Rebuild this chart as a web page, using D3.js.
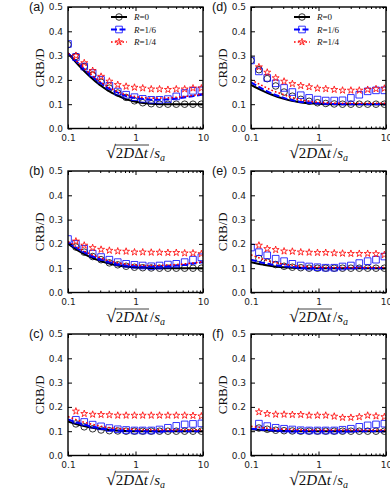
<!DOCTYPE html>
<html>
<head>
<meta charset="utf-8">
<script src="https://cdn.jsdelivr.net/npm/d3@7"></script>
<style>
    body { margin: 0; background: #fff; }
    .axis text { font-family: "DejaVu Sans", sans-serif; font-size: 9px; fill: #222; }
    .axis line { stroke: #000; stroke-width: 1; }
    .axis path { display: none; }
    .frame { fill: none; stroke: #000; stroke-width: 1.4; }
    .panel-label { font-family: "Liberation Sans", Arial, sans-serif; font-size: 12.5px; fill: #111; }
    .math { font-family: "Liberation Serif", "DejaVu Serif", serif; fill: #111; }
</style>
</head>
<body>
<div id="chart"></div>
<script>

// marker positions (sqrt(2 D dt)/s_a) and theory-curve sample positions
var xMarks = [0.1, 0.131, 0.174, 0.232, 0.309, 0.410, 0.546, 0.726, 0.966, 1.28, 1.71, 2.27, 3.02, 4.02, 5.35, 7.11, 9.46];
var xLine = [0.1, 0.15, 0.2, 0.3, 0.4, 0.5, 0.7, 1, 1.5, 2, 3, 5, 7, 10];

var yTicks = [0, 0.1, 0.2, 0.3, 0.4, 0.5];
var xTicks = [0.1, 1, 10];
var xTickLabels = ["0.1", "1", "10"];
var xMinorTicks = [0.2, 0.3, 0.4, 0.5, 0.6, 0.7, 0.8, 0.9, 2, 3, 4, 5, 6, 7, 8, 9];

var seriesNames = ["R=0", "R=1/6", "R=1/4"];
var panelLabels = ["(a)", "(b)", "(c)", "(d)", "(e)", "(f)"];

// (a)
var aCircle = [0.345, 0.297, 0.255, 0.22, 0.19, 0.166, 0.146, 0.128, 0.114, 0.106, 0.102, 0.1, 0.1, 0.1, 0.1, 0.1, 0.1];
var aSquare = [0.348, 0.294, 0.255, 0.228, 0.2, 0.176, 0.152, 0.139, 0.129, 0.122, 0.118, 0.118, 0.121, 0.132, 0.146, 0.155, 0.157];
var aStar = [null, 0.30, 0.27, 0.238, 0.214, 0.194, 0.18, 0.173, 0.169, 0.166, 0.162, 0.162, 0.16, 0.162, 0.162, 0.166, 0.166];
var aLine0 = [0.31, 0.255, 0.22, 0.178, 0.155, 0.14, 0.122, 0.11, 0.103, 0.101, 0.1, 0.1, 0.1, 0.1];
var aLine6 = [0.31, 0.262, 0.228, 0.188, 0.165, 0.152, 0.135, 0.125, 0.12, 0.118, 0.12, 0.127, 0.133, 0.14];
var aLine4 = [0.31, 0.265, 0.232, 0.193, 0.17, 0.156, 0.14, 0.131, 0.126, 0.125, 0.126, 0.131, 0.136, 0.142];

// (b)
var bCircle = [null, 0.187, 0.166, 0.148, 0.135, 0.122, 0.114, 0.108, 0.104, 0.102, 0.101, 0.1, 0.1, 0.1, 0.1, 0.1, 0.1];
var bSquare = [0.22, 0.2, 0.18, 0.16, 0.146, 0.135, 0.125, 0.118, 0.114, 0.111, 0.108, 0.111, 0.115, 0.118, 0.125, 0.135, 0.145];
var bStar = [null, 0.211, 0.194, 0.184, 0.177, 0.173, 0.17, 0.169, 0.166, 0.166, 0.165, 0.165, 0.164, 0.164, 0.162, 0.162, 0.159];
var bLine0 = [0.2, 0.168, 0.15, 0.13, 0.12, 0.113, 0.107, 0.103, 0.101, 0.1, 0.1, 0.1, 0.1, 0.1];
var bLine6 = [0.205, 0.175, 0.157, 0.137, 0.126, 0.119, 0.112, 0.108, 0.106, 0.106, 0.108, 0.113, 0.118, 0.125];
var bLine4 = [0.21, 0.18, 0.162, 0.143, 0.131, 0.124, 0.117, 0.113, 0.111, 0.111, 0.113, 0.117, 0.121, 0.127];

// (c)
var cCircle = [null, 0.13, 0.118, 0.11, 0.105, 0.102, 0.101, 0.1, 0.1, 0.1, 0.1, 0.1, 0.1, 0.1, 0.1, 0.1, 0.1];
var cSquare = [null, 0.147, 0.138, 0.127, 0.12, 0.113, 0.108, 0.105, 0.103, 0.103, 0.103, 0.107, 0.114, 0.122, 0.128, 0.13, 0.132];
var cStar = [null, 0.182, 0.172, 0.169, 0.168, 0.167, 0.165, 0.165, 0.165, 0.165, 0.165, 0.165, 0.165, 0.165, 0.165, 0.164, 0.162];
var cLine0 = [0.14, 0.125, 0.117, 0.109, 0.105, 0.103, 0.101, 0.1, 0.1, 0.1, 0.1, 0.1, 0.1, 0.1];
var cLine6 = [0.148, 0.132, 0.122, 0.112, 0.107, 0.104, 0.102, 0.101, 0.1, 0.1, 0.1, 0.1, 0.1, 0.1];
var cLine4 = [0.16, 0.142, 0.132, 0.121, 0.115, 0.112, 0.109, 0.107, 0.106, 0.106, 0.106, 0.106, 0.106, 0.106];

// (d)
var dCircle = [0.28, 0.242, 0.205, 0.175, 0.15, 0.133, 0.12, 0.112, 0.106, 0.103, 0.101, 0.1, 0.1, 0.1, 0.1, 0.1, 0.1];
var dSquare = [0.28, 0.235, 0.208, 0.186, 0.167, 0.15, 0.137, 0.126, 0.119, 0.115, 0.115, 0.116, 0.126, 0.139, 0.153, 0.157, 0.157];
var dStar = [null, 0.253, 0.231, 0.208, 0.194, 0.184, 0.176, 0.171, 0.165, 0.163, 0.16, 0.157, 0.157, 0.157, 0.16, 0.163, 0.165];
var dLine0 = [0.18, 0.155, 0.14, 0.123, 0.114, 0.109, 0.104, 0.102, 0.1, 0.1, 0.1, 0.1, 0.1, 0.1];
var dLine6 = [0.19, 0.162, 0.145, 0.127, 0.117, 0.111, 0.106, 0.103, 0.101, 0.1, 0.1, 0.1, 0.1, 0.1];
var dLine4 = [0.2, 0.175, 0.158, 0.14, 0.128, 0.12, 0.113, 0.108, 0.105, 0.104, 0.104, 0.104, 0.104, 0.104];

// (e)
var eCircle = [null, 0.14, 0.125, 0.115, 0.108, 0.104, 0.102, 0.1, 0.1, 0.1, 0.1, 0.1, 0.1, 0.1, 0.1, 0.1, 0.1];
var eSquare = [0.185, 0.166, 0.153, 0.139, 0.129, 0.118, 0.111, 0.107, 0.104, 0.102, 0.102, 0.107, 0.111, 0.121, 0.129, 0.135, 0.148];
var eStar = [null, 0.194, 0.18, 0.176, 0.17, 0.169, 0.166, 0.165, 0.164, 0.164, 0.162, 0.161, 0.16, 0.16, 0.16, 0.159, 0.155];
var eLine0 = [0.125, 0.115, 0.109, 0.104, 0.102, 0.101, 0.1, 0.1, 0.1, 0.1, 0.1, 0.1, 0.1, 0.1];
var eLine6 = [0.135, 0.122, 0.115, 0.108, 0.105, 0.103, 0.101, 0.1, 0.1, 0.1, 0.1, 0.1, 0.1, 0.1];
var eLine4 = [0.155, 0.137, 0.127, 0.117, 0.112, 0.109, 0.106, 0.104, 0.103, 0.103, 0.103, 0.103, 0.103, 0.103];

// (f)
var fCircle = [null, 0.113, 0.108, 0.104, 0.102, 0.101, 0.1, 0.1, 0.1, 0.1, 0.1, 0.1, 0.1, 0.1, 0.1, 0.1, 0.1];
var fSquare = [null, 0.131, 0.121, 0.114, 0.11, 0.107, 0.104, 0.103, 0.103, 0.103, 0.103, 0.106, 0.11, 0.118, 0.124, 0.128, 0.131];
var fStar = [null, 0.179, 0.172, 0.169, 0.169, 0.168, 0.168, 0.165, 0.165, 0.165, 0.161, 0.156, 0.156, 0.159, 0.165, 0.162, 0.159];
var fLine0 = [0.108, 0.104, 0.102, 0.101, 0.1, 0.1, 0.1, 0.1, 0.1, 0.1, 0.1, 0.1, 0.1, 0.1];
var fLine6 = [0.11, 0.106, 0.104, 0.102, 0.101, 0.101, 0.1, 0.1, 0.1, 0.1, 0.1, 0.1, 0.1, 0.1];
var fLine4 = [0.12, 0.114, 0.111, 0.108, 0.107, 0.106, 0.105, 0.105, 0.105, 0.105, 0.105, 0.105, 0.105, 0.105];


var W = 390, H = 491;
var colLeft = [68, 251];
var rowTop = [7, 171, 334];
var plotW = 135, plotH = 121.5;

var styles = [
    { color: "#000", shape: d3.symbolCircle, size: 34, dash: null, width: 2 },
    { color: "#0000ff", shape: d3.symbolSquare, size: 44, dash: "6,2.5", width: 2 },
    { color: "#ff0000", shape: d3.symbolStar, size: 15, dash: "1.6,2.2", width: 1.6 }
];

var svg = d3.select("#chart").append("svg")
    .attr("width", W)
    .attr("height", H);

/*
 * One CRB panel
 */
CrbPanel = function(_svg, _index, _left, _top, _marks, _lines, _legend) {
    this.svg = _svg;
    this.index = _index;
    this.left = _left;
    this.top = _top;
    this.marks = _marks;
    this.lines = _lines;
    this.legend = _legend;
    this.initVis();
}

CrbPanel.prototype.initVis = function() {
    var vis = this;

    vis.width = plotW;
    vis.height = plotH;

    vis.g = vis.svg.append("g")
        .attr("transform", "translate(" + vis.left + "," + vis.top + ")");

    vis.x = d3.scaleLog().domain([0.1, 10]).range([0, vis.width]);
    vis.y = d3.scaleLinear().domain([0, 0.5]).range([vis.height, 0]);

    vis.clipId = "clip" + vis.index;
    vis.g.append("clipPath").attr("id", vis.clipId)
        .append("rect")
        .attr("width", vis.width)
        .attr("height", vis.height);

    vis.updateVis();
}

CrbPanel.prototype.updateVis = function() {
    var vis = this;

    var plot = vis.g.append("g").attr("clip-path", "url(#" + vis.clipId + ")");

    var line = d3.line()
        .x(d => vis.x(d[0]))
        .y(d => vis.y(d[1]))
        .curve(d3.curveMonotoneX);

    styles.forEach(function(s, i) {
        var pts = xMarks.map((xv, k) => [xv, vis.marks[i][k]]).filter(d => d[1] !== null);
        plot.selectAll(".m" + i)
            .data(pts)
            .enter().append("path")
            .attr("class", "m" + i)
            .attr("d", d3.symbol().type(s.shape).size(s.size))
            .attr("transform", d => "translate(" + vis.x(d[0]) + "," + vis.y(d[1]) + ")")
            .attr("fill", "none")
            .attr("stroke", s.color)
            .attr("stroke-width", 0.8);

        plot.append("path")
            .datum(xLine.map((xv, k) => [xv, vis.lines[i][k]]))
            .attr("d", line)
            .attr("fill", "none")
            .attr("stroke", s.color)
            .attr("stroke-width", s.width)
            .attr("stroke-dasharray", s.dash);
    });

    // axes, ticks pointing inward on all four sides
    vis.g.append("g").attr("class", "axis")
        .call(d3.axisLeft(vis.y).tickValues(yTicks).tickFormat(d3.format(".1f")).tickSize(-4).tickPadding(5));
    vis.g.append("g").attr("class", "axis")
        .attr("transform", "translate(" + vis.width + ",0)")
        .call(d3.axisRight(vis.y).tickValues(yTicks).tickFormat("").tickSize(-4));
    vis.g.append("g").attr("class", "axis")
        .attr("transform", "translate(0," + vis.height + ")")
        .call(d3.axisBottom(vis.x).tickValues(xTicks).tickFormat((d, i) => xTickLabels[i]).tickSize(-4).tickPadding(6));
    vis.g.append("g").attr("class", "axis")
        .attr("transform", "translate(0," + vis.height + ")")
        .call(d3.axisBottom(vis.x).tickValues(xMinorTicks).tickFormat("").tickSize(-2));
    vis.g.append("g").attr("class", "axis")
        .call(d3.axisTop(vis.x).tickValues(xTicks).tickFormat("").tickSize(-4));
    vis.g.append("g").attr("class", "axis")
        .call(d3.axisTop(vis.x).tickValues(xMinorTicks).tickFormat("").tickSize(-2));

    vis.g.append("rect")
        .attr("class", "frame")
        .attr("width", vis.width)
        .attr("height", vis.height);

    vis.g.append("text")
        .attr("class", "panel-label")
        .attr("x", -39)
        .attr("y", 3.5)
        .text(panelLabels[vis.index]);

    // y label
    vis.g.append("text")
        .attr("class", "math")
        .attr("transform", "translate(-24.5," + (vis.height / 2) + ") rotate(-90)")
        .attr("text-anchor", "middle")
        .attr("font-size", 13)
        .text("CRB/D");

    // x label: sqrt(2 D Delta t) / s_a
    var xl = vis.g.append("text")
        .attr("class", "math")
        .attr("x", vis.width / 2)
        .attr("y", vis.height + 29)
        .attr("text-anchor", "middle")
        .attr("font-size", 15);
    xl.append("tspan").attr("font-size", 18).text("√");
    xl.append("tspan").text("2");
    xl.append("tspan").attr("font-style", "italic").text("D");
    xl.append("tspan").text("Δ");
    xl.append("tspan").attr("font-style", "italic").text("t");
    xl.append("tspan").attr("dx", 2).text("/");
    xl.append("tspan").attr("font-style", "italic").text("s");
    xl.append("tspan").attr("font-style", "italic").attr("font-size", 10).attr("dy", 3).text("a");
    var node = xl.node();
    var x1 = node.getEndPositionOfChar(4).x;
    var xr = node.getEndPositionOfChar(0).x;
    vis.g.append("line")
        .attr("x1", xr - 0.8).attr("x2", x1 + 1)
        .attr("y1", vis.height + 16.5).attr("y2", vis.height + 16.5)
        .attr("stroke", "#111").attr("stroke-width", 0.8);

    if (vis.legend) {
        var lg = vis.g.append("g");
        styles.forEach(function(s, i) {
            var yy = 10 + i * 12.5;
            lg.append("line")
                .attr("x1", 43).attr("x2", 59).attr("y1", yy).attr("y2", yy)
                .attr("stroke", s.color).attr("stroke-width", s.width)
                .attr("stroke-dasharray", s.dash);
            lg.append("path")
                .attr("d", d3.symbol().type(s.shape).size(s.size))
                .attr("transform", "translate(51," + yy + ")")
                .attr("fill", "none").attr("stroke", s.color).attr("stroke-width", 0.8);
            var t = lg.append("text")
                .attr("class", "math")
                .attr("x", 66).attr("y", yy + 3)
                .attr("font-size", 9);
            t.append("tspan").attr("font-style", "italic").text(seriesNames[i].slice(0, 1));
            t.append("tspan").text(seriesNames[i].slice(1));
        });
    }
}

var panelMarks = [
    [aCircle, aSquare, aStar], [bCircle, bSquare, bStar], [cCircle, cSquare, cStar],
    [dCircle, dSquare, dStar], [eCircle, eSquare, eStar], [fCircle, fSquare, fStar]
];
var panelLines = [
    [aLine0, aLine6, aLine4], [bLine0, bLine6, bLine4], [cLine0, cLine6, cLine4],
    [dLine0, dLine6, dLine4], [eLine0, eLine6, eLine4], [fLine0, fLine6, fLine4]
];

for (var p = 0; p < 6; p++) {
    var col = Math.floor(p / 3), row = p % 3;
    new CrbPanel(svg, p, colLeft[col], rowTop[row], panelMarks[p], panelLines[p], row === 0);
}

</script>
</body>
</html>
